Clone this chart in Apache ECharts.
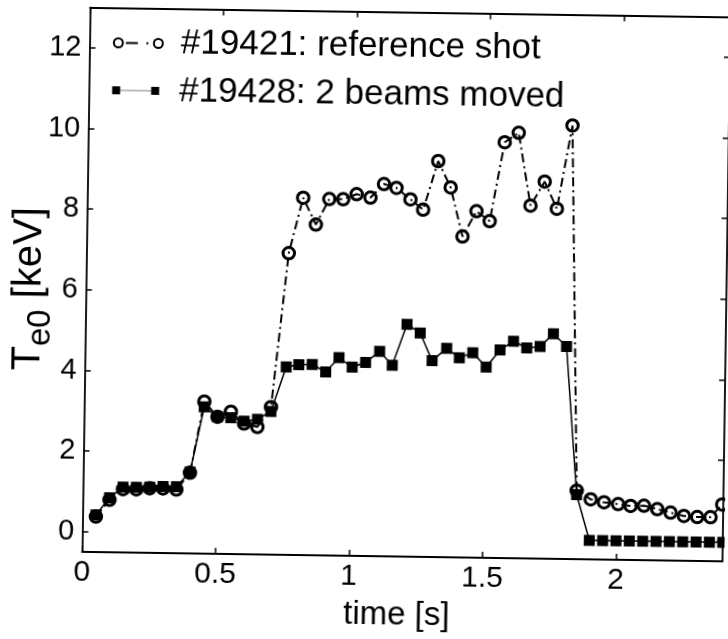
<!DOCTYPE html>
<html>
<head>
<meta charset="utf-8">
<script src="https://cdn.jsdelivr.net/npm/echarts@6/dist/echarts.min.js"></script>
<style>
html,body{margin:0;padding:0;background:#fff;overflow:hidden;width:728px;height:639px;}
#chart{position:absolute;left:0;top:0;width:728px;height:639px;transform:rotate(0.85deg);transform-origin:364px 319.5px;}
</style>
</head>
<body>
<div id="chart"></div>
<script>
// ---- data ----
const timeRef = [0.05,0.10,0.15,0.20,0.25,0.30,0.35,0.40,0.45,0.50,0.55,0.60,0.65,0.70,
  0.758,0.809,0.858,0.907,0.959,1.009,1.061,1.111,1.158,1.211,1.259,1.313,1.361,1.408,1.459,1.509,
  1.561,1.613,1.661,1.713,1.760,1.814,1.850,1.903,1.953,2.006,2.053,2.103,2.153,2.203,2.253,2.303,2.353,2.396];
const teRef = [0.38,0.80,1.07,1.07,1.10,1.10,1.08,1.50,3.27,2.90,3.03,2.74,2.66,3.16,
  6.98,8.36,7.70,8.34,8.34,8.47,8.39,8.73,8.64,8.36,8.11,9.32,8.67,7.46,8.09,7.85,
  9.81,10.05,8.25,8.85,8.18,10.25,1.20,0.99,0.92,0.88,0.84,0.85,0.77,0.69,0.61,0.59,0.59,0.91];
const timeMoved = [0.05,0.10,0.15,0.20,0.25,0.30,0.35,0.40,0.45,0.50,0.55,0.60,0.65,0.70,
  0.755,0.802,0.852,0.903,0.952,1.002,1.052,1.104,1.152,1.205,1.255,1.301,1.355,1.403,1.453,1.504,
  1.555,1.605,1.655,1.705,1.754,1.804,1.850,1.90,1.95,2.00,2.05,2.10,2.15,2.20,2.25,2.30,2.35,2.40];
const teMoved = [0.42,0.85,1.12,1.12,1.13,1.15,1.15,1.52,3.14,2.90,2.88,2.80,2.85,3.05,
  4.16,4.22,4.23,4.05,4.41,4.18,4.30,4.58,4.24,5.26,5.05,4.37,4.68,4.45,4.58,4.23,
  4.66,4.88,4.72,4.76,5.08,4.77,1.10,-0.03,-0.03,-0.03,-0.03,-0.03,-0.03,-0.03,-0.03,-0.03,-0.03,-0.03];
const xTicks = [0, 0.5, 1, 1.5, 2];
const yTicks = [0, 2, 4, 6, 8, 10, 12];
const nameRef = '#19421: reference shot';
const nameMoved = '#19428: 2 beams moved';
const xTitle = 'time [s]';

// ---- chart ----
const FONT = '"Liberation Sans", Arial, Helvetica, sans-serif';
const pairs = (t, v) => t.map((x, i) => [x, v[i]]);
const black = '#000';
const lineAxis = {show: true, onZero: false, lineStyle: {color: black, width: 1.8}};
const tickStyle = {color: black, width: 1.5};

const iconRef = 'path://M0,0 M62,9 M0,4.5a4.5,4.5 0 1,0 9,0a4.5,4.5 0 1,0 -9,0Z M40,4.5a4.5,4.5 0 1,0 9,0a4.5,4.5 0 1,0 -9,0Z M12,4.5L24,4.5 M32.5,4.5L34.5,4.5';
const iconMoved = 'path://M0,0 M62,9 M0,0.5h8v8h-8Z M39,0.5h8v8h-8Z M8,4.3h31v0.45h-31Z';

const chart = echarts.init(document.getElementById('chart'), null, {renderer: 'canvas'});
chart.setOption({
  animation: false,
  backgroundColor: '#fff',
  grid: {left: 85.5, top: 11.6, width: 640.5, height: 544.4, containLabel: false, outerBoundsMode: 'none'},
  xAxis: [
    {
      type: 'value', min: 0, max: 2.4, position: 'bottom',
      axisLine: lineAxis,
      axisTick: {show: true, inside: true, length: 6, customValues: xTicks, lineStyle: tickStyle},
      axisLabel: {show: true, customValues: xTicks, color: black, fontSize: 30, fontFamily: FONT, margin: 6},
      splitLine: {show: false},
      name: xTitle, nameLocation: 'middle', nameGap: 42, nameMoveOverlap: false,
      nameTextStyle: {color: black, fontSize: 33, fontFamily: FONT, padding: [0, 10, 0, 0]}
    },
    {
      type: 'value', min: 0, max: 2.4, position: 'top',
      axisLine: lineAxis,
      axisTick: {show: true, inside: true, length: 6, customValues: xTicks, lineStyle: tickStyle},
      axisLabel: {show: false}, splitLine: {show: false}
    }
  ],
  yAxis: [
    {
      type: 'value', min: -0.5, max: 13, position: 'left',
      axisLine: lineAxis,
      axisTick: {show: true, inside: true, length: 6, customValues: yTicks, lineStyle: tickStyle},
      axisLabel: {show: true, customValues: yTicks, color: black, fontSize: 29, fontFamily: FONT, margin: 8},
      splitLine: {show: false},
      name: '{a|T}{b|e0}{a| [keV]}', nameLocation: 'middle', nameRotate: 90, nameGap: 28,
      nameMoveOverlap: false,
      nameTextStyle: {
        color: black, fontSize: 40, fontFamily: FONT, padding: [0, 20, 0, 0],
        rich: {
          a: {fontSize: 40, fontFamily: FONT, color: black},
          b: {fontSize: 33, fontFamily: FONT, color: black, padding: [25, 0, 0, 0]}
        }
      }
    },
    {
      type: 'value', min: -0.5, max: 13, position: 'right',
      axisLine: lineAxis,
      axisTick: {show: true, inside: true, length: 6, customValues: yTicks, lineStyle: tickStyle},
      axisLabel: {show: false}, splitLine: {show: false}
    }
  ],
  legend: [
    {
      data: [{name: nameRef, icon: iconRef,
        itemStyle: {color: 'rgba(0,0,0,0)', borderColor: black, borderWidth: 2}}],
      left: 108.8, top: 29, padding: 0, itemWidth: 62, itemHeight: 9, selectedMode: false,
      textStyle: {color: black, fontSize: 35, fontFamily: FONT}
    },
    {
      data: [{name: nameMoved, icon: iconMoved,
        itemStyle: {color: black, borderWidth: 0}}],
      left: 108.8, top: 76.5, padding: 0, itemWidth: 62, itemHeight: 9, selectedMode: false,
      textStyle: {color: black, fontSize: 35, fontFamily: FONT}
    }
  ],
  series: [
    {
      name: nameMoved, type: 'line', xAxisIndex: 0, yAxisIndex: 0,
      data: pairs(timeMoved, teMoved),
      symbol: 'rect', symbolSize: 11,
      itemStyle: {color: black},
      lineStyle: {color: black, width: 1.5},
      z: 2
    },
    {
      name: nameRef, type: 'line', xAxisIndex: 0, yAxisIndex: 0,
      data: pairs(timeRef, teRef),
      symbol: 'circle', symbolSize: 11.5,
      itemStyle: {color: 'rgba(0,0,0,0)', borderColor: black, borderWidth: 3},
      lineStyle: {color: black, width: 2, type: [9, 4, 2, 4]},
      z: 3
    }
  ]
});
</script>
</body>
</html>
